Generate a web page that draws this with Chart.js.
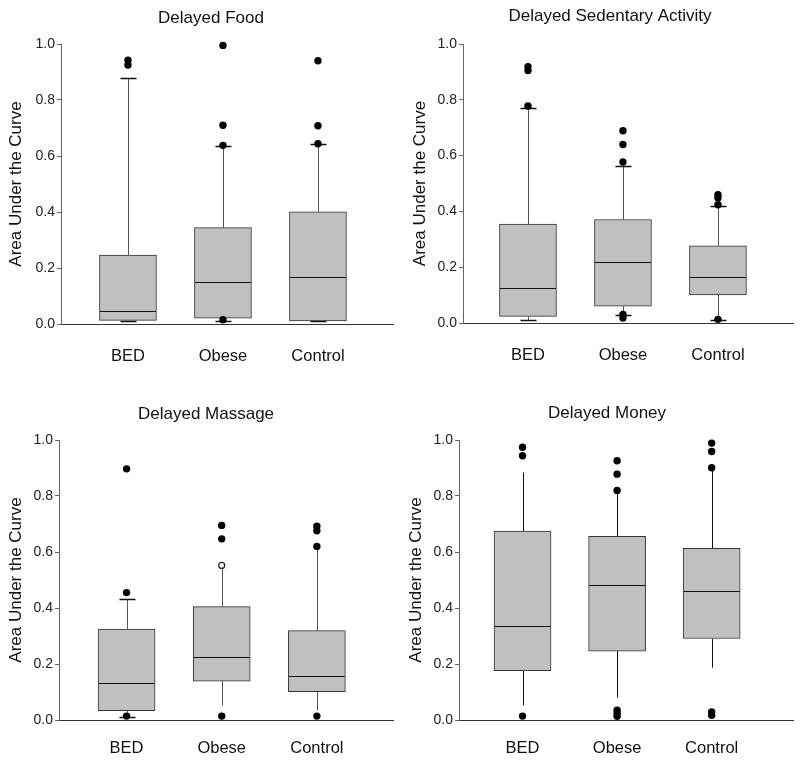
<!DOCTYPE html>
<html>
<head>
<meta charset="utf-8">
<script src="https://cdn.jsdelivr.net/npm/chart.js"></script>
<style>
    html, body { margin: 0; padding: 0; background: #fff; }
    #grid { position: relative; width: 800px; height: 763px; }
    #grid canvas { position: absolute; }
</style>
</head>
<body>
<div id="grid">
    <canvas id="food" width="400" height="380" style="left:0;top:0"></canvas>
    <canvas id="sedentary" width="400" height="380" style="left:400px;top:0"></canvas>
    <canvas id="massage" width="400" height="383" style="left:0;top:380px"></canvas>
    <canvas id="money" width="400" height="383" style="left:400px;top:380px"></canvas>
</div>
<script>
const groups = ['BED', 'Obese', 'Control'];
const yTicks = [0, 0.2, 0.4, 0.6, 0.8, 1.0];

// per group: [lower whisker, Q1, median, Q3, upper whisker]
const foodStats = [
    [0.012, 0.013, 0.046, 0.246, 0.877],
    [0.012, 0.021, 0.150, 0.344, 0.637],
    [0.011, 0.011, 0.169, 0.401, 0.643]
];
const foodOutliers = [[0.942, 0.925], [0.995, 0.710, 0.638, 0.015], [0.940, 0.708, 0.644]];

const sedentaryStats = [
    [0.011, 0.024, 0.126, 0.355, 0.770],
    [0.030, 0.060, 0.219, 0.371, 0.564],
    [0.011, 0.101, 0.164, 0.277, 0.418]
];
const sedentaryOutliers = [[0.919, 0.905, 0.778], [0.689, 0.640, 0.577, 0.031, 0.018], [0.460, 0.448, 0.424, 0.013]];

const massageStats = [
    [0.011, 0.033, 0.133, 0.325, 0.431],
    [0.052, 0.139, 0.225, 0.405, 0.541],
    [0.035, 0.101, 0.156, 0.319, 0.619]
];
const massageOutliers = [[0.897, 0.455, 0.014], [0.695, 0.647, 0.014], [0.692, 0.676, 0.620, 0.014]];
const massageOpenPoints = [[], [0.552], []];

const moneyStats = [
    [0.052, 0.176, 0.334, 0.675, 0.884],
    [0.080, 0.246, 0.483, 0.656, 0.809],
    [0.187, 0.291, 0.462, 0.613, 0.901]
];
const moneyOutliers = [[0.974, 0.944, 0.014], [0.926, 0.878, 0.820, 0.035, 0.023, 0.013], [0.989, 0.959, 0.901, 0.029, 0.017]];

const FONT = '"Liberation Sans Narrow", "Arial Narrow", "Liberation Sans", Arial, sans-serif';

// whiskers, caps and medians drawn with the chart's own scales
const boxWhiskers = {
    id: 'boxWhiskers',
    beforeDatasetsDraw(chart, args, opts) {
        const { ctx, scales: { x, y } } = chart;
        ctx.save();
        ctx.strokeStyle = opts.whiskerColor;
        ctx.lineWidth = 1;
        opts.stats.forEach((s, i) => {
            const px = Math.round(x.getPixelForValue(i + 1)) + 0.5;
            const seg = (a, b) => {
                ctx.beginPath();
                ctx.moveTo(px, y.getPixelForValue(a));
                ctx.lineTo(px, y.getPixelForValue(b));
                ctx.stroke();
            };
            seg(s[3], s[4]);
            seg(s[0], s[1]);
            if (opts.caps[i]) {
                ctx.strokeStyle = '#111';
                ctx.lineWidth = 1.5;
                [s[0], s[4]].forEach(v => {
                    const py = Math.round(y.getPixelForValue(v)) + 0.5;
                    ctx.beginPath();
                    ctx.moveTo(px - 8, py);
                    ctx.lineTo(px + 8, py);
                    ctx.stroke();
                });
                ctx.strokeStyle = opts.whiskerColor;
                ctx.lineWidth = 1;
            }
        });
        ctx.restore();
    },
    afterDatasetDraw(chart, args, opts) {
        if (args.index !== 0) return;
        const { ctx, scales: { x, y } } = chart;
        ctx.save();
        ctx.strokeStyle = '#111';
        ctx.lineWidth = 1.2;
        opts.stats.forEach((s, i) => {
            const px = x.getPixelForValue(i + 1);
            const py = Math.round(y.getPixelForValue(s[2])) + 0.5;
            ctx.beginPath();
            ctx.moveTo(px - 28, py);
            ctx.lineTo(px + 28, py);
            ctx.stroke();
        });
        ctx.restore();
    }
};

function toPoints(lists) {
    return lists.flatMap((vals, i) => vals.map(v => ({ x: i + 1, y: v })));
}

function makePanel(id, title, stats, outliers, openPoints, cfg) {
    // left padding centres the title over the plot; the y axis fills the rest
    const padLeft = 2 * cfg.titleCenter - 393;
    new Chart(document.getElementById(id), {
        type: 'bar',
        data: {
            datasets: [
                {
                    type: 'bar',
                    data: stats.map((s, i) => ({ x: i + 1, y: [s[1], s[3]] })),
                    backgroundColor: '#c0c0c0',
                    borderColor: '#333',
                    borderWidth: 1,
                    borderSkipped: false,
                    barThickness: 57,
                    order: 1
                },
                {
                    type: 'scatter',
                    data: toPoints(outliers),
                    pointRadius: 3.7,
                    backgroundColor: '#000',
                    borderColor: '#000',
                    borderWidth: 0,
                    clip: false,
                    order: 0
                },
                {
                    type: 'scatter',
                    data: toPoints(openPoints),
                    pointRadius: 3,
                    backgroundColor: '#fff',
                    borderColor: '#222',
                    borderWidth: 1.2,
                    clip: false,
                    order: 0
                }
            ]
        },
        options: {
            responsive: false,
            animation: false,
            events: [],
            layout: { padding: { left: padLeft, right: 7, top: 0, bottom: 0 } },
            plugins: {
                legend: { display: false },
                tooltip: { enabled: false },
                title: {
                    display: true,
                    text: title,
                    color: '#111',
                    font: { family: FONT, size: 17, weight: 'normal', lineHeight: 1.2 },
                    padding: { top: cfg.titleTop, bottom: cfg.areaTop - cfg.titleTop - 20.4 }
                },
                boxWhiskers: { stats: stats, caps: cfg.caps, whiskerColor: cfg.whiskerColor }
            },
            scales: {
                x: {
                    type: 'linear',
                    offset: false,
                    min: cfg.xMin,
                    max: cfg.xMax,
                    afterBuildTicks: s => { s.ticks = groups.map((g, i) => ({ value: i + 1 })); },
                    ticks: {
                        callback: v => groups[v - 1],
                        color: '#111',
                        font: { family: FONT, size: 16.5 },
                        padding: cfg.xPad,
                        autoSkip: false,
                        maxRotation: 0
                    },
                    grid: { display: false, drawTicks: false },
                    border: { display: true, color: '#333', width: 1 },
                    afterFit: s => { s.height = cfg.xHeight; }
                },
                y: {
                    min: 0,
                    max: 1,
                    afterBuildTicks: s => { s.ticks = yTicks.map(v => ({ value: v })); },
                    ticks: {
                        callback: v => v.toFixed(1),
                        color: '#222',
                        font: { family: FONT, size: 14 },
                        padding: 2
                    },
                    grid: { drawOnChartArea: false, drawTicks: true, tickLength: 4, color: '#666' },
                    border: { display: true, color: '#666', width: 1 },
                    title: {
                        display: true,
                        text: 'Area Under the Curve',
                        color: '#111',
                        font: { family: FONT, size: 17, lineHeight: 1.2 },
                        padding: { top: cfg.yTitleX - padLeft - 10.2, bottom: 0 }
                    },
                    afterFit: s => { s.width = cfg.left - padLeft; }
                }
            }
        },
        plugins: [boxWhiskers]
    });
}

makePanel('food', 'Delayed Food', foodStats, foodOutliers, [[], [], []], {
    titleTop: 8, titleCenter: 211, areaTop: 44, xHeight: 56, xPad: 23, left: 61, yTitleX: 16,
    xMin: 0.295, xMax: 3.79, caps: [true, true, true], whiskerColor: '#555'
});
makePanel('sedentary', 'Delayed Sedentary Activity', sedentaryStats, sedentaryOutliers, [[], [], []], {
    titleTop: 6, titleCenter: 210, areaTop: 44, xHeight: 57, xPad: 23, left: 63, yTitleX: 20,
    xMin: 0.316, xMax: 3.79, caps: [true, true, true], whiskerColor: '#555'
});
makePanel('massage', 'Delayed Massage', massageStats, massageOutliers, massageOpenPoints, {
    titleTop: 24, titleCenter: 206, areaTop: 60, xHeight: 43, xPad: 19, left: 59, yTitleX: 16,
    xMin: 0.29, xMax: 3.8, caps: [true, false, false], whiskerColor: '#555'
});
makePanel('money', 'Delayed Money', moneyStats, moneyOutliers, [[], [], []], {
    titleTop: 23, titleCenter: 207, areaTop: 60, xHeight: 43, xPad: 19, left: 59, yTitleX: 16,
    xMin: 0.328, xMax: 3.86, caps: [false, false, false], whiskerColor: '#111'
});
</script>
</body>
</html>
